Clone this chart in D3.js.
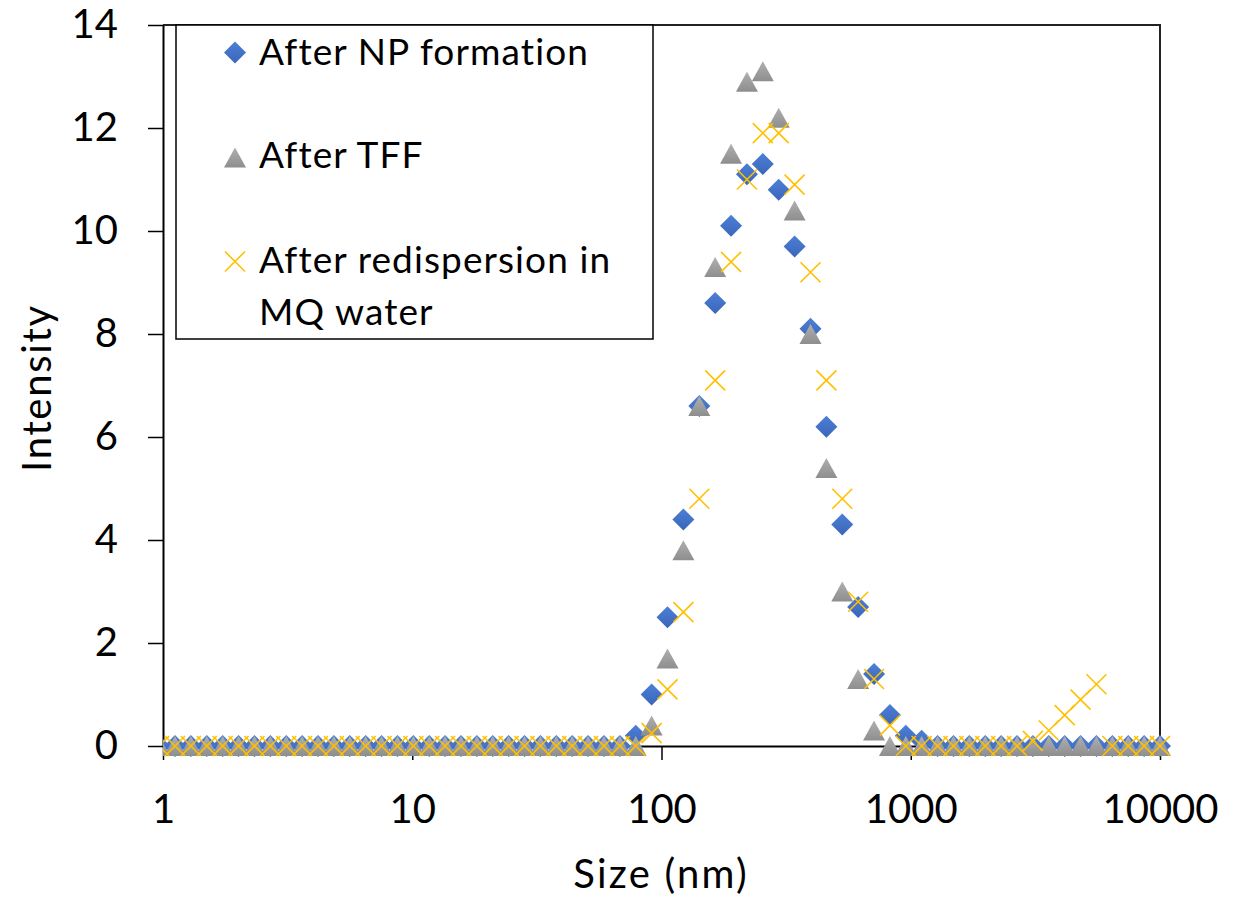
<!DOCTYPE html>
<html>
<head>
<meta charset="utf-8">
<script src="https://cdn.jsdelivr.net/npm/d3@7/dist/d3.min.js"></script>
<style>
  html, body { margin: 0; padding: 0; background: #fff; }
  svg { display: block; }
  text { font-family: Lato, "Open Sans", sans-serif; fill: #000; }
</style>
</head>
<body>
<svg id="chart" width="1235" height="899"></svg>
<script>
// Particle size bins (nm) of the DLS intensity distribution
const sizes = [
  0.9649, 1.117, 1.294, 1.499, 1.736, 2.010, 2.328, 2.696, 3.122, 3.615,
  4.187, 4.849, 5.615, 6.503, 7.531, 8.721, 10.10, 11.70, 13.54, 15.69,
  18.17, 21.04, 24.36, 28.21, 32.67, 37.84, 43.82, 50.75, 58.77, 68.06,
  78.82, 91.28, 105.7, 122.4, 141.8, 164.2, 190.1, 220.2, 255.0, 295.3,
  342.0, 396.1, 458.7, 531.2, 615.1, 712.4, 825.0, 955.4, 1106, 1281,
  1484, 1718, 1990, 2305, 2669, 3091, 3580, 4145, 4801, 5560,
  6439, 7456, 8635, 10000
];

// Intensity (%) per bin for each sample
const afterNPFormation = [
  0, 0, 0, 0, 0, 0, 0, 0, 0, 0,
  0, 0, 0, 0, 0, 0, 0, 0, 0, 0,
  0, 0, 0, 0, 0, 0, 0, 0, 0, 0,
  0.2, 1.0, 2.5, 4.4, 6.6, 8.6, 10.1, 11.1, 11.3, 10.8,
  9.7, 8.1, 6.2, 4.3, 2.7, 1.4, 0.6, 0.2, 0.1, 0,
  0, 0, 0, 0, 0, 0, 0, 0, 0, 0,
  0, 0, 0, 0
];
const afterTFF = [
  0, 0, 0, 0, 0, 0, 0, 0, 0, 0,
  0, 0, 0, 0, 0, 0, 0, 0, 0, 0,
  0, 0, 0, 0, 0, 0, 0, 0, 0, 0,
  0, 0.4, 1.7, 3.8, 6.6, 9.3, 11.5, 12.9, 13.1, 12.2,
  10.4, 8.0, 5.4, 3.0, 1.3, 0.3, 0, 0, 0, 0,
  0, 0, 0, 0, 0, 0, 0, 0, 0, 0,
  0, 0, 0, 0
];
const afterRedispersion = [
  0, 0, 0, 0, 0, 0, 0, 0, 0, 0,
  0, 0, 0, 0, 0, 0, 0, 0, 0, 0,
  0, 0, 0, 0, 0, 0, 0, 0, 0, 0,
  0, 0.25, 1.1, 2.6, 4.8, 7.1, 9.4, 11.0, 11.9, 11.9,
  10.9, 9.2, 7.1, 4.8, 2.8, 1.3, 0.4, 0, 0, 0,
  0, 0, 0, 0, 0, 0.1, 0.3, 0.6, 0.9, 1.2,
  0, 0, 0, 0
];

const xTicks = [1, 10, 100, 1000, 10000];
const yTicks = [0, 2, 4, 6, 8, 10, 12, 14];
const seriesNames = ["After NP formation", "After TFF", "After redispersion in", "MQ water"];

const W = 1235, H = 899;
const plot = { left: 163, right: 1160, top: 25, bottom: 746 };

const svg = d3.select("#chart");
const x = d3.scaleLog().domain([1, 10000]).range([plot.left, plot.right]);
const y = d3.scaleLinear().domain([0, 14]).range([plot.bottom, plot.top]);

const defs = svg.append("defs");
const gBlue = defs.append("linearGradient").attr("id", "gradBlue")
  .attr("x1", 0).attr("y1", 0).attr("x2", 0).attr("y2", 1);
gBlue.append("stop").attr("offset", "0%").attr("stop-color", "#4D7FD6");
gBlue.append("stop").attr("offset", "100%").attr("stop-color", "#3A66BA");
const gGray = defs.append("linearGradient").attr("id", "gradGray")
  .attr("x1", 0).attr("y1", 0).attr("x2", 0).attr("y2", 1);
gGray.append("stop").attr("offset", "0%").attr("stop-color", "#AFAFAF");
gGray.append("stop").attr("offset", "100%").attr("stop-color", "#8E8E8E");

defs.append("clipPath").attr("id", "plotClip")
  .append("rect").attr("x", plot.left).attr("y", 0)
  .attr("width", W - plot.left).attr("height", H);

// Marker shapes (relative to the data point)
const diamondPath = "M0,-11L11,0L0,11L-11,0Z";
const trianglePath = "M0,-10L11,10L-11,10Z";
const crossPath = "M-10,-10L10,10M-10,10L10,-10";

// Plot frame (top and right edges)
svg.append("path")
  .attr("d", `M${plot.left},${plot.top}H${plot.right}V${plot.bottom}`)
  .attr("fill", "none").attr("stroke", "#222").attr("stroke-width", 2);

// Y axis
const yAxis = svg.append("g")
  .attr("transform", `translate(${plot.left},0)`)
  .call(d3.axisLeft(y).tickValues(yTicks).tickSize(15).tickSizeOuter(0).tickPadding(30).tickFormat(d3.format("d")));
yAxis.select(".domain").attr("stroke", "#000").attr("stroke-width", 2);
yAxis.selectAll(".tick line").attr("stroke", "#000").attr("stroke-width", 1.5);
yAxis.selectAll(".tick text").attr("font-size", 40).attr("font-family", "Lato");

// X axis
const xAxis = svg.append("g")
  .attr("transform", `translate(0,${plot.bottom})`)
  .call(d3.axisBottom(x).tickValues(xTicks).tickSize(14).tickSizeOuter(0).tickFormat(d3.format("d")));
xAxis.select(".domain").attr("stroke", "#000").attr("stroke-width", 2);
xAxis.selectAll(".tick line").attr("stroke", "#000").attr("stroke-width", 1.5);
xAxis.selectAll(".tick text").attr("font-size", 40).attr("font-family", "Lato")
  .attr("dy", null).attr("y", 77);

// Axis titles
svg.append("text").attr("x", 661).attr("y", 888)
  .attr("text-anchor", "middle").attr("font-size", 40).attr("letter-spacing", 2.2)
  .text("Size (nm)");
svg.append("text").attr("transform", "translate(51,388) rotate(-90)")
  .attr("text-anchor", "middle").attr("font-size", 40).attr("letter-spacing", 1.7)
  .text("Intensity");

// Data points
const marks = svg.append("g").attr("clip-path", "url(#plotClip)");
const pts = arr => sizes.map((s, i) => ({ s, v: arr[i] }));

marks.append("g").selectAll("path").data(pts(afterNPFormation)).join("path")
  .attr("transform", d => `translate(${x(d.s)},${y(d.v)})`)
  .attr("d", diamondPath).attr("fill", "url(#gradBlue)");

marks.append("g").selectAll("path").data(pts(afterTFF)).join("path")
  .attr("transform", d => `translate(${x(d.s)},${y(d.v)})`)
  .attr("d", trianglePath).attr("fill", "url(#gradGray)");

marks.append("g").selectAll("path").data(pts(afterRedispersion)).join("path")
  .attr("transform", d => `translate(${x(d.s)},${y(d.v)})`)
  .attr("d", crossPath).attr("fill", "none")
  .attr("stroke", "#FFC000").attr("stroke-width", 1.6);

// Legend
const legend = svg.append("g");
legend.append("rect").attr("x", 176).attr("y", 25).attr("width", 477).attr("height", 314)
  .attr("fill", "#fff").attr("stroke", "#000").attr("stroke-width", 1.5);
legend.append("path").attr("transform", "translate(235,52.5)")
  .attr("d", diamondPath).attr("fill", "url(#gradBlue)");
legend.append("path").attr("transform", "translate(235,157.5)")
  .attr("d", trianglePath).attr("fill", "url(#gradGray)");
legend.append("path").attr("transform", "translate(235,261.5)")
  .attr("d", crossPath).attr("fill", "none").attr("stroke", "#FFC000").attr("stroke-width", 1.6);
const legendBaselines = [65, 168, 273, 325];
seriesNames.forEach((t, i) => {
  legend.append("text").attr("x", 259).attr("y", legendBaselines[i])
    .attr("font-size", 37).attr("letter-spacing", 1.1).text(t);
});
</script>
</body>
</html>
